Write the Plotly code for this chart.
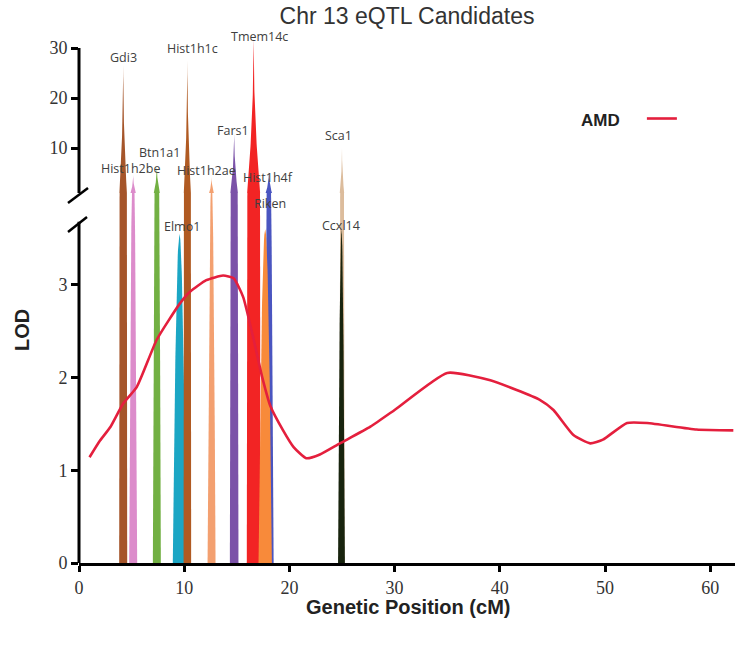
import numpy as np
import plotly.graph_objects as go

# ---------------- data ----------------
genes = ["Gdi3", "Hist1h2be", "Btn1a1", "Elmo1", "Hist1h1c", "Hist1h2ae",
         "Fars1", "Hist1h4f", "Tmem14c", "Riken", "Sca1", "Ccxl14"]
gene_pos = [4.2, 5.15, 7.4, 9.55, 10.3, 12.6, 14.75, 18.05, 16.6, 17.7, 25.0, 24.95]
gene_lod = [26.6, 4.6, 6.5, 3.55, 27.5, 4.2, 13.0, 5.2, 32.0, 3.6, 10.0, 3.6]
gene_width = [0.76, 0.76, 0.76, 1.27, 0.72, 0.76, 0.82, 0.9, 1.3, 1.27, 0.5, 0.65]

amd_x = [1.0, 2.0, 3.0, 4.2, 5.5, 7.4, 9.6, 10.6, 12.1, 13.7, 14.7, 15.6, 16.6,
         17.4, 18.2, 19.4, 20.4, 21.6, 22.9, 24.8, 27.7, 30.0, 35.0, 39.1, 43.8,
         45.1, 47.0, 48.6, 49.8, 52.1, 54.0, 58.7, 62.2]
amd_y = [1.14, 1.32, 1.47, 1.72, 1.90, 2.41, 2.80, 2.93, 3.05, 3.10, 3.07, 2.87, 2.41,
         2.01, 1.69, 1.43, 1.25, 1.13, 1.17, 1.29, 1.47, 1.65, 2.05, 1.97, 1.76,
         1.65, 1.38, 1.29, 1.33, 1.51, 1.51, 1.44, 1.43]

x_ticks = [0, 10, 20, 30, 40, 50, 60]
y_low_ticks = [0, 1, 2, 3]
y_high_ticks = [10, 20, 30]

# ---------------- style ----------------
gene_colors = ["#a5552a", "#dc8ccb", "#72b043", "#1ba6c4", "#b05a22", "#f3a070",
               "#7b52a8", "#4a55c0", "#f22424", "#f88a3a", "#dcbc9c", "#18240e"]
label_dx = [0, -3, 3, 3, 5, -5, -1, -1, 6, 5, -4, 0]
label_dy = [8, 7, 13, 7, 12, 7, 3, -5, 2, 26, 13, 4]

W, H = 739, 645
ML, MR, MT, MB = 79, 4, 30, 82
PW, PH = W - ML - MR, H - MT - MB
LOW_TOP_PX = 193          # pixel where the two segments meet
LOW_RANGE = [0, 3.99]
HIGH_RANGE = [1.0, 33.6]
LOW_LINE_TOP = 3.68       # lower axis line ends at the break
split = (H - MB - LOW_TOP_PX) / PH


def px2paper(px, py):
    return (px - ML) / PW, (H - MB - py) / PH


fig = go.Figure()


def spike(c, w, peak, k, n=60):
    v = np.linspace(0, peak, n)
    hw = (w / 2) * (1 - v / peak) ** k
    xs = np.concatenate([c - hw, (c + hw)[::-1]])
    ys = np.concatenate([v, v[::-1]])
    return xs, ys


for g, c, p, w, col in zip(genes, gene_pos, gene_lod, gene_width, gene_colors):
    xs, ys = spike(c, w, p, 0.5)
    fig.add_trace(go.Scatter(x=xs, y=ys, mode="lines", fill="toself",
                             fillcolor=col, line=dict(width=0, color=col),
                             hoverinfo="skip", showlegend=False, yaxis="y"))
    if p > LOW_RANGE[1]:
        xs, ys = spike(c, w, p, 2.0)
        fig.add_trace(go.Scatter(x=xs, y=ys, mode="lines", fill="toself",
                                 fillcolor=col, line=dict(width=0, color=col),
                                 hoverinfo="skip", showlegend=False, yaxis="y2"))

fig.add_trace(go.Scatter(x=amd_x, y=amd_y, mode="lines", name=" ",
                         line=dict(color="#e41f3d", width=2.6, shape="spline",
                                   smoothing=0.5),
                         yaxis="y", showlegend=True))

annotations = []
for g, c, p, dx, dy in zip(genes, gene_pos, gene_lod, label_dx, label_dy):
    annotations.append(dict(x=c, y=p, xref="x",
                            yref="y2" if p > LOW_RANGE[1] else "y",
                            text=g, showarrow=False, xshift=dx, yshift=dy,
                            xanchor="center", yanchor="middle",
                            font=dict(family="Open Sans", size=12.5, color="#404040")))

ax_title_font = dict(family="Liberation Sans, Arial", size=20, color="#222")
lx, ly = px2paper(22, 330)
annotations.append(dict(x=lx, y=ly, xref="paper", yref="paper", text="<b>LOD</b>",
                        textangle=-90, showarrow=False, font=ax_title_font,
                        xanchor="center", yanchor="middle"))
gx, gy = px2paper(408, 607)
annotations.append(dict(x=gx, y=gy, xref="paper", yref="paper",
                        text="<b>Genetic Position (cM)</b>", showarrow=False,
                        font=ax_title_font, xanchor="center", yanchor="middle"))

shapes = [
    dict(type="line", xref="paper", yref="y", x0=0, x1=0, y0=0, y1=LOW_LINE_TOP,
         line=dict(color="black", width=3)),
    dict(type="line", xref="paper", yref="y2", x0=0, x1=0, y0=HIGH_RANGE[0], y1=30,
         line=dict(color="black", width=3)),
]
for (ax0, ay0, ax1, ay1) in [(68, 203, 88, 188), (68, 232, 87, 217)]:
    x0, y0 = px2paper(ax0, ay0)
    x1, y1 = px2paper(ax1, ay1)
    shapes.append(dict(type="line", xref="paper", yref="paper", x0=x0, y0=y0,
                       x1=x1, y1=y1, line=dict(color="black", width=2.5)))

tick_font = dict(family="Liberation Serif, Times New Roman", size=18, color="#333")
common_y = dict(showgrid=False, zeroline=False, showline=False, ticks="outside",
                ticklen=7, tickwidth=3, tickcolor="black", tickfont=tick_font,
                anchor="x", fixedrange=True)

legx, legy = px2paper(579, 104)
fig.update_layout(
    width=W, height=H,
    margin=dict(l=ML, r=MR, t=MT, b=MB),
    paper_bgcolor="white", plot_bgcolor="white",
    title=dict(text="Chr 13 eQTL Candidates", x=0.5, xref="paper",
               y=1 - 16 / H, yref="container", xanchor="center", yanchor="middle",
               font=dict(family="Liberation Sans, Arial", size=23, color="#333")),
    xaxis=dict(range=[0, PW / 10.52], tickvals=x_ticks, showgrid=False,
               zeroline=False, showline=True, linecolor="black", linewidth=3,
               ticks="outside", ticklen=6, tickwidth=3, tickcolor="black",
               ticklabelstandoff=0,
               tickfont=tick_font, anchor="y", fixedrange=True),
    yaxis=dict(domain=[0, split], range=LOW_RANGE, tickvals=y_low_ticks, **common_y),
    yaxis2=dict(domain=[split, 1], range=HIGH_RANGE, tickvals=y_high_ticks, **common_y),
    annotations=annotations,
    shapes=shapes,
    showlegend=True,
    legend=dict(x=legx, y=legy, xanchor="left", yanchor="top",
                bgcolor="rgba(0,0,0,0)",
                title=dict(text="<b>AMD</b>&nbsp;&nbsp;&nbsp;", side="left",
                           font=dict(family="Liberation Sans, Arial", size=17,
                                     color="#222")),
                font=dict(size=12)),
)

fig.write_html("out.html")
